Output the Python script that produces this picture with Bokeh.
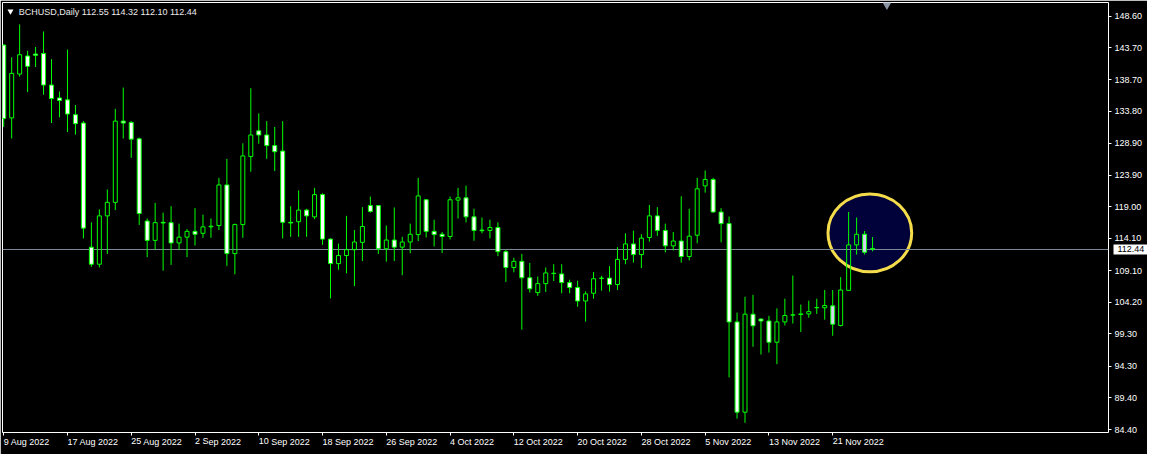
import pandas as pd
from bokeh.plotting import figure
from bokeh.models import (ColumnDataSource, Range1d, FixedTicker, Label,
                          NumeralTickFormatter, LinearAxis)
from bokeh.embed import file_html
from bokeh.resources import INLINE

# ---------------- data ----------------
chart_title = "BCHUSD,Daily"
first_date = "2022-08-09"

opens = [144.1, 132.8, 139.6, 142.4, 142.7, 142.8, 137.9, 135.9, 135.6, 133.3,
         132.0, 112.74, 110.1, 117.6, 119.7, 132.3, 132.1, 129.55, 116.8, 113.8,
         116.6, 116.55, 113.4, 114.3, 115.2, 114.9, 115.9, 116.1, 122.4, 111.75,
         116.25, 126.8, 130.8, 130.15, 128.5, 127.65, 116.6, 116.7, 118.5, 117.45,
         120.9, 114.0, 110.2, 111.45, 112.35, 113.5, 119.2, 119.2, 112.5, 113.85,
         112.75, 113.55, 114.7, 120.1, 115.2, 114.75, 114.4, 120.05, 120.4, 117.45,
         115.4, 115.35, 115.8, 112.05, 109.6, 110.55, 108.0, 105.7, 107.1, 108.7,
         108.6, 107.25, 106.5, 104.4, 105.6, 107.9, 107.95, 106.95, 110.85, 113.25,
         111.6, 114.25, 117.6, 115.35, 112.95, 113.7, 111.3, 114.6, 122.25, 123.25,
         118.2, 116.4, 101.15, 87.15, 102.35, 101.6, 101.3, 98.0, 101.15, 102.2,
         102.3, 102.4, 103.35, 103.35, 103.65, 100.6, 106.05, 113.1, 114.75, 112.55]
highs = [144.2, 142.2, 147.3, 143.2, 143.8, 146.2, 141.9, 136.9, 143.4, 134.8,
         132.3, 116.6, 118.6, 121.7, 134.2, 137.5, 132.3, 129.75, 117.2, 119.6,
         118.1, 119.1, 116.4, 115.55, 118.8, 117.8, 117.2, 123.5, 126.45, 116.4,
         128.85, 137.4, 133.5, 132.3, 131.4, 132.3, 119.1, 121.55, 118.7, 121.95,
         121.1, 114.1, 113.3, 117.6, 115.4, 118.95, 120.6, 119.3, 116.1, 118.9,
         114.35, 116.4, 123.5, 120.2, 117.0, 115.1, 120.6, 121.95, 122.3, 118.7,
         117.35, 117.0, 116.6, 112.35, 111.1, 111.7, 110.3, 108.2, 109.6, 110.1,
         110.1, 107.7, 107.55, 105.9, 108.9, 108.3, 109.8, 112.75, 114.9, 115.3,
         114.75, 119.3, 118.95, 116.4, 115.1, 120.65, 118.7, 123.5, 124.65, 123.5,
         118.8, 117.5, 102.6, 105.05, 105.35, 101.7, 102.1, 103.25, 104.75, 108.35,
         103.85, 104.45, 104.75, 106.1, 106.1, 108.1, 118.2, 117.35, 115.25, 114.32]
lows = [131.4, 129.6, 139.2, 136.8, 140.7, 136.4, 132.0, 132.9, 130.6, 130.2,
        114.1, 109.7, 109.6, 111.7, 118.5, 129.6, 126.6, 116.2, 111.2, 112.35,
        109.1, 110.0, 112.35, 111.2, 113.0, 114.2, 114.2, 115.4, 109.85, 108.55,
        114.2, 124.45, 128.8, 126.45, 124.55, 114.1, 114.35, 114.35, 114.35, 117.1,
        113.1, 104.8, 109.25, 108.7, 106.7, 110.6, 118.1, 111.7, 110.5, 110.6,
        108.4, 111.8, 113.7, 114.25, 112.85, 111.85, 113.95, 117.2, 116.6, 113.75,
        114.9, 114.1, 111.35, 107.35, 108.85, 99.95, 105.7, 105.2, 105.8, 107.5,
        105.6, 105.6, 103.5, 101.2, 104.75, 106.0, 105.85, 106.1, 110.1, 110.35,
        109.5, 113.6, 114.5, 111.95, 112.25, 110.35, 110.7, 113.35, 121.2, 118.1,
        113.5, 92.55, 86.15, 85.5, 97.3, 96.1, 96.4, 94.6, 100.6, 100.9,
        99.6, 101.8, 102.4, 101.5, 99.0, 100.45, 106.0, 111.6, 111.6, 112.10]
closes = [132.7, 139.7, 142.6, 140.8, 142.5, 137.9, 135.8, 135.5, 133.4, 131.9,
          115.7, 110.1, 117.6, 119.7, 132.3, 132.0, 129.5, 117.97, 113.8, 116.55,
          116.5, 113.4, 114.3, 115.2, 114.75, 115.9, 116.0, 122.4, 111.75, 116.25,
          126.9, 130.15, 130.15, 128.5, 127.55, 116.6, 116.5, 118.5, 117.6, 120.9,
          114.0, 110.2, 111.45, 112.35, 113.55, 115.95, 118.3, 112.5, 113.85, 112.75,
          113.55, 114.75, 120.7, 115.2, 114.7, 114.4, 120.1, 120.4, 117.45, 115.35,
          115.3, 115.8, 112.05, 109.6, 110.55, 108.0, 106.3, 107.1, 108.75, 108.65,
          107.25, 106.5, 104.4, 105.5, 107.85, 107.95, 106.95, 110.85, 113.25, 111.6,
          114.15, 117.6, 115.35, 112.95, 113.7, 111.3, 114.45, 121.8, 123.25, 118.2,
          116.4, 101.15, 87.15, 102.35, 100.55, 101.3, 98.0, 101.15, 102.15, 102.25,
          102.4, 102.75, 103.4, 103.7, 100.8, 106.1, 113.1, 114.75, 111.95, 112.44]

price_ticks = [148.60, 143.70, 138.70, 133.80, 128.90, 123.90, 119.00,
               114.10, 109.10, 104.20, 99.30, 94.30, 89.40, 84.40]
date_tick_labels = ["9 Aug 2022", "17 Aug 2022", "25 Aug 2022", "2 Sep 2022",
                    "10 Sep 2022", "18 Sep 2022", "26 Sep 2022", "4 Oct 2022",
                    "12 Oct 2022", "20 Oct 2022", "28 Oct 2022", "5 Nov 2022",
                    "13 Nov 2022", "21 Nov 2022"]

# hand-drawn highlight ellipse (bar index / price units)
highlight_x, highlight_y = 108.66, 114.96
highlight_w, highlight_h = 10.5, 12.07

# ---------------- derived ----------------
dates = pd.date_range(first_date, periods=len(opens), freq="D")
idx = list(range(len(opens)))
date_ticks = [int((pd.Timestamp(s) - dates[0]).days) for s in date_tick_labels]

GREEN = "#00ff00"
bull = [c >= o for o, c in zip(opens, closes)]
body_top = [max(o, c) for o, c in zip(opens, closes)]
body_bot = [min(o, c) for o, c in zip(opens, closes)]
in_hl = [abs(i - highlight_x) < highlight_w / 2 for i in idx]
fills = [("#000000" if b else ("#d2d6ee" if h else "#ffffff")) for b, h in zip(bull, in_hl)]
alphas = [(0.0 if b else 1.0) for b in bull]

src = ColumnDataSource(dict(x=idx, o=opens, h=highs, l=lows, c=closes,
                            top=body_top, bot=body_bot, fill=fills, alpha=alphas))

FONT = "Liberation Sans"
X0, X1 = -0.15, 138.6

p = figure(width=1147, height=454, output_backend="svg", toolbar_location=None,
           x_range=Range1d(X0, X1), y_range=Range1d(84.0, 150.7),
           y_axis_location="right",
           background_fill_color="#000000", border_fill_color="#000000",
           outline_line_color="#ffffff", outline_line_width=1,
           min_border_left=2, min_border_top=2, min_border_right=0, min_border_bottom=0)
p.grid.visible = False

# axes
for ax in (p.xaxis[0], p.yaxis[0]):
    ax.axis_line_color = None
    ax.major_tick_line_color = "#ffffff"
    ax.major_tick_in = 0
    ax.major_tick_out = 3
    ax.minor_tick_line_color = None
    ax.major_label_text_color = "#ffffff"
    ax.major_label_text_font = FONT
    ax.major_label_text_font_size = "9px"

p.yaxis.ticker = FixedTicker(ticks=price_ticks)
p.yaxis.formatter = NumeralTickFormatter(format="0.00")
p.yaxis.major_label_standoff = 3

p.xaxis.ticker = FixedTicker(ticks=date_ticks)
p.xaxis.major_label_overrides = {t: s for t, s in zip(date_ticks, date_tick_labels)}
# tiny negative angle -> labels are left-aligned at their tick (MT4 style)
p.xaxis.major_label_orientation = -1e-6
p.xaxis.major_label_standoff = 6

# current-price tag on the price scale: a one-tick axis stacked after the price
# axis; its thick white tick reaches back (tick_in) to form the box and its
# label is pulled back (negative standoff) onto the box, so it takes no room.
tag_axis = LinearAxis(ticker=FixedTicker(ticks=[closes[-1]]),
                      formatter=NumeralTickFormatter(format="0.00"),
                      axis_line_color=None, minor_tick_line_color=None,
                      major_tick_in=32, major_tick_out=2,
                      major_tick_line_color="#ffffff", major_tick_line_width=10,
                      major_tick_line_cap="butt",
                      major_label_standoff=-30,
                      major_label_text_color="#000000",
                      major_label_text_font=FONT, major_label_text_font_size="9px")
p.add_layout(tag_axis, "right")

# highlight ellipse (behind candles)
p.ellipse(x=[highlight_x], y=[highlight_y], width=highlight_w, height=highlight_h,
          fill_color="#02023a", line_color="#f4dc4a", line_width=3)

# current price line
p.hspan(y=[closes[-1]], line_color="#7a8799", line_width=1)

# wicks
p.segment(x0="x", y0="h", x1="x", y1="top", source=src, line_color=GREEN, line_width=1)
p.segment(x0="x", y0="bot", x1="x", y1="l", source=src, line_color=GREEN, line_width=1)
# bodies
p.vbar(x="x", top="top", bottom="bot", width=0.5, source=src,
       fill_color="fill", fill_alpha="alpha", line_color=GREEN, line_width=1)

# chart-shift marker and title marker
p.scatter(x=[110.8], y=[150.35], marker="inverted_triangle", size=9,
          fill_color="#8a94a2", line_color=None)
p.scatter(x=[0.85], y=[149.35], marker="inverted_triangle", size=6,
          fill_color="#ffffff", line_color=None)

title = Label(x=1.9, y=150.7, y_offset=-4,
              text=f"{chart_title} {opens[-1]:.2f} {highs[-1]:.2f} {lows[-1]:.2f} {closes[-1]:.2f}",
              text_font=FONT, text_font_size="9px", text_color="#ececec",
              text_baseline="top", text_align="left")
p.add_layout(title)

open("out.html", "w").write(file_html(p, INLINE))
